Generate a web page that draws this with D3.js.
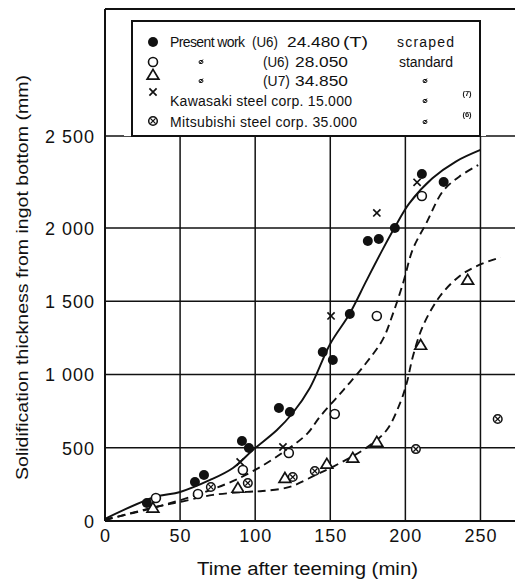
<!DOCTYPE html>
<html>
<head>
<meta charset="utf-8">
<script src="https://cdn.jsdelivr.net/npm/d3@7"></script>
<style>
  body { margin: 0; background: #fff; }
  text { font-family: "Liberation Sans", Arial, sans-serif; fill: #111; }
</style>
</head>
<body>
<svg id="chart" width="515" height="581">
  <defs>
    <filter id="flat"><feOffset dx="0" dy="0"/></filter>
  </defs>
</svg>
<script>
// Measured solidification thickness (mm) against time after teeming (min)
const presentU6Scraped = [
  [27.9, 123], [59.9, 266], [65.9, 314], [91.2, 546], [95.8, 498],
  [115.8, 771], [123.1, 744], [145, 1153], [151.7, 1099], [163, 1413],
  [175, 1911], [182.3, 1925], [193, 2000], [211, 2293], [225.5, 2250]
];
const presentU6Standard = [
  [33.9, 157], [61.9, 184], [91.8, 348], [122.4, 464], [153, 730],
  [181, 1399], [211, 2174]
];
const presentU7Standard = [
  [31.9, 89], [88.5, 225], [119.8, 293], [147.7, 389], [165, 430],
  [181, 539], [210.2, 1201], [241.5, 1645]
];
const kawasaki = [
  [90, 403], [118.5, 505], [150.5, 1400], [181, 2082], [207.8, 2248]
];
const mitsubishi = [
  [70.5, 232], [95.1, 259], [125, 300], [139.7, 341], [207, 491], [261.5, 696]
];

// Fitted solidification curves
const curveU6Scraped = [
  [0, 15], [33.3, 164], [50, 198], [70, 280], [85.2, 362], [98.5, 485],
  [114.5, 621], [125, 737], [136.4, 908], [150, 1210], [162.9, 1415],
  [174, 1639], [185, 1856], [192.7, 2000], [202.6, 2134], [218, 2270],
  [233.6, 2361], [250, 2424]
];
const curveU6Standard = [
  [0, 10], [32, 89], [58.6, 170], [80, 250], [98.5, 340], [123, 500],
  [135, 600], [143, 710], [159, 897], [174, 1080], [185, 1240],
  [192, 1423], [198.6, 1628], [205, 1856], [214, 2027], [225, 2200],
  [236, 2280], [248.5, 2342]
];
const curveU7Standard = [
  [0, 5], [32, 92], [50, 130], [72, 178], [94.5, 199], [105, 205],
  [123, 233], [141, 318], [151.7, 370], [174, 499], [187.6, 621],
  [196.6, 808], [201, 945], [205, 1123], [211.6, 1329], [223, 1534],
  [236, 1671], [247.5, 1740], [263.5, 1801]
];

const xTicks = [0, 50, 100, 150, 200, 250];
const xTickLabels = ["0", "50", "100", "150", "200", "250"];
const yTicks = [0, 500, 1000, 1500, 2000, 2500];
const yTickLabels = ["0", "500", "1 000", "1 500", "2 000", "2 500"];

// legend text pieces: [text, left x, width, stretch glyphs]
const legendRows = [
  { sym: "filled",  parts: [["Present work", 170, 75, false], ["(U6)", 252, 26, true], ["24.480", 287, 53, true], ["(T)", 343, 25, true], ["scraped", 397, 57, false]] },
  { sym: "open",    parts: [["(U6)", 263, 26, true], ["28.050", 295, 53, true], ["standard", 399, 54, false]], ditto: [201] },
  { sym: "tri",     parts: [["(U7)", 263, 27, true], ["34.850", 295, 53, true]], ditto: [201, 425] },
  { sym: "cross",   parts: [["Kawasaki steel corp. 15.000", 170, 182, false]], ditto: [425], note: "(7)" },
  { sym: "otimes",  parts: [["Mitsubishi steel corp. 35.000", 170, 187, false]], ditto: [425], note: "(6)" }
];

const svg = d3.select("#chart");

const x = d3.scaleLinear().domain([0, 273]).range([105, 515]);
// the printed axis has a wider 2000-2500 step than the lower intervals
const y = d3.scaleLinear().domain([0, 2000, 2500, 3190]).range([521, 228, 136, 9]);

const ink = "#111";

// grid
const grid = svg.append("g").attr("stroke", ink).attr("stroke-width", 1.5);
grid.selectAll("line.v").data(xTicks.slice(1)).join("line")
  .attr("x1", d => x(d)).attr("x2", d => x(d))
  .attr("y1", y(0)).attr("y2", y(2500));
grid.selectAll("line.h").data(yTicks.slice(1)).join("line")
  .attr("x1", x(0)).attr("x2", 515)
  .attr("y1", d => y(d)).attr("y2", d => y(d));

// frame: left axis, bottom axis, top edge
const frame = svg.append("g").attr("stroke", ink).attr("stroke-width", 2).attr("fill", "none");
frame.append("line").attr("x1", x(0)).attr("x2", x(0)).attr("y1", y(3190)).attr("y2", y(0));
frame.append("line").attr("x1", x(0)).attr("x2", 515).attr("y1", y(0)).attr("y2", y(0));
frame.append("line").attr("x1", x(0)).attr("x2", 515).attr("y1", y(3190)).attr("y2", y(3190));

// tick labels via d3 axes
const xAxis = svg.append("g").attr("transform", `translate(0,${y(0)})`)
  .call(d3.axisBottom(x).tickValues(xTicks).tickSize(0).tickPadding(8)
    .tickFormat((d, i) => xTickLabels[i]));
const yAxis = svg.append("g").attr("transform", `translate(${x(0)},0)`)
  .call(d3.axisLeft(y).tickValues(yTicks).tickSize(0).tickPadding(10)
    .tickFormat((d, i) => yTickLabels[i]));
[xAxis, yAxis].forEach(a => {
  a.select(".domain").remove();
  a.selectAll("text").attr("font-size", 18).attr("fill", ink)
    .attr("font-family", "Liberation Sans, Arial, sans-serif")
    .attr("letter-spacing", 1);
});
yAxis.selectAll("text").attr("dy", "0.36em");

// curves
const line = d3.line().x(d => x(d[0])).y(d => y(d[1])).curve(d3.curveCatmullRom.alpha(0.5));
const curves = svg.append("g").attr("fill", "none").attr("stroke", ink).attr("stroke-width", 1.9);
curves.append("path").attr("d", line(curveU6Scraped));
curves.append("path").attr("d", line(curveU6Standard)).attr("stroke-dasharray", "8,5");
curves.append("path").attr("d", line(curveU7Standard)).attr("stroke-dasharray", "8,5");

// marker drawing
function marker(g, type, cx, cy) {
  if (type === "filled") {
    g.append("circle").attr("cx", cx).attr("cy", cy).attr("r", 5).attr("fill", ink);
  } else if (type === "open") {
    g.append("circle").attr("cx", cx).attr("cy", cy).attr("r", 4.5)
      .attr("fill", "#fff").attr("stroke", ink).attr("stroke-width", 1.6);
  } else if (type === "tri") {
    const s = 5.6;
    g.append("path")
      .attr("d", `M${cx},${cy - s}L${cx + s * 1.05},${cy + s * 0.75}L${cx - s * 1.05},${cy + s * 0.75}Z`)
      .attr("fill", "#fff").attr("stroke", ink).attr("stroke-width", 1.7);
  } else if (type === "cross") {
    const s = 3.6;
    g.append("path")
      .attr("d", `M${cx - s},${cy - s}L${cx + s},${cy + s}M${cx + s},${cy - s}L${cx - s},${cy + s}`)
      .attr("stroke", ink).attr("stroke-width", 1.7);
  } else if (type === "otimes") {
    const s = 2.6;
    g.append("circle").attr("cx", cx).attr("cy", cy).attr("r", 4.3)
      .attr("fill", "#fff").attr("stroke", ink).attr("stroke-width", 1.5);
    g.append("path")
      .attr("d", `M${cx - s},${cy - s}L${cx + s},${cy + s}M${cx + s},${cy - s}L${cx - s},${cy + s}`)
      .attr("stroke", ink).attr("stroke-width", 1.3);
  }
}

const pts = svg.append("g");
[[mitsubishi, "otimes"], [presentU7Standard, "tri"], [presentU6Standard, "open"],
 [kawasaki, "cross"], [presentU6Scraped, "filled"]].forEach(([data, type]) => {
  data.forEach(d => marker(pts, type, x(d[0]), y(d[1])));
});

// legend
const leg = svg.append("g");
leg.append("rect").attr("x", 124).attr("y", 15).attr("width", 362).attr("height", y(2500) - 15)
  .attr("fill", "#fff");
leg.append("rect").attr("x", 132).attr("y", 21).attr("width", 348).attr("height", y(2500) - 21)
  .attr("fill", "none").attr("stroke", ink).attr("stroke-width", 2);

const symY = [42, 62, 75, 92, 121];
const baseY = [47, 67, 86, 106, 127];
// tiny marks go through a pass-through filter so they are rasterised in grey
const fine = leg.append("g").attr("filter", "url(#flat)");
legendRows.forEach((row, i) => {
  marker(leg, row.sym, 153, symY[i]);
  row.parts.forEach(([t, px, w, stretch]) => {
    leg.append("text").attr("x", px).attr("y", baseY[i]).attr("font-size", 14)
      .attr("textLength", w).attr("lengthAdjust", stretch ? "spacingAndGlyphs" : "spacing").text(t);
  });
  (row.ditto || []).forEach(px => {
    // ditto mark
    fine.append("ellipse").attr("cx", px).attr("cy", baseY[i] - 5).attr("rx", 2).attr("ry", 1.6)
      .attr("fill", "none").attr("stroke", ink).attr("stroke-width", 1);
    fine.append("line").attr("x1", px - 1.5).attr("y1", baseY[i] - 3)
      .attr("x2", px + 2).attr("y2", baseY[i] - 7.5)
      .attr("stroke", ink).attr("stroke-width", 0.9);
  });
  if (row.note) {
    fine.append("text").attr("x", 467).attr("y", baseY[i] - 10).attr("font-size", 7.5)
      .attr("font-weight", "bold").attr("text-anchor", "middle").text(row.note);
  }
});

// axis titles
svg.append("text").attr("x", 197).attr("y", 575).attr("font-size", 18)
  .attr("textLength", 221).attr("lengthAdjust", "spacingAndGlyphs")
  .text("Time after teeming (min)");
svg.append("text").attr("transform", "translate(28,480) rotate(-90)")
  .attr("font-size", 16.5).attr("textLength", 405).attr("lengthAdjust", "spacingAndGlyphs")
  .text("Solidification thickness from ingot bottom (mm)");
</script>
</body>
</html>
